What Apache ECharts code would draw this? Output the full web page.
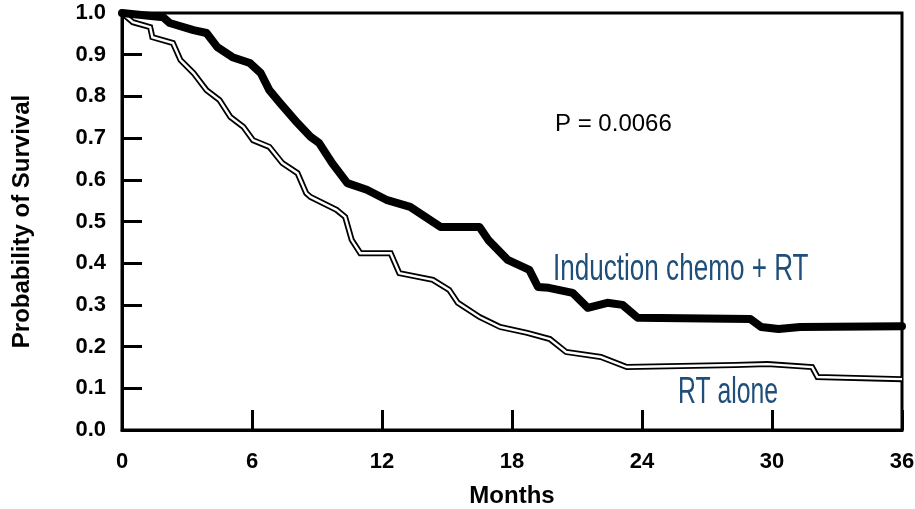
<!DOCTYPE html>
<html>
<head>
<meta charset="utf-8">
<script src="https://cdn.jsdelivr.net/npm/echarts@6/dist/echarts.min.js"></script>
<style>
  html, body { margin: 0; padding: 0; background: #fff; }
  #chart { width: 915px; height: 509px; }
</style>
</head>
<body>
<div id="chart"></div>
<script>
// Kaplan-Meier survival, months since start of treatment
const chemoMonths = [0, 1.9, 2.2, 3.3, 3.9, 4.4, 5.1, 5.9, 6.4, 6.8, 7.3, 8.1, 8.7, 9.1, 9.7, 10.4, 11.3, 12.2, 13.3, 14.7, 16.5, 16.9, 17.8, 18.8, 19.2, 19.7, 20.8, 21.5, 22.4, 23.1, 23.8, 29.0, 29.5, 30.3, 31.3, 36];
const chemoSurv   = [1.0, 0.99, 0.976, 0.959, 0.952, 0.918, 0.894, 0.88, 0.856, 0.815, 0.784, 0.736, 0.703, 0.688, 0.64, 0.592, 0.576, 0.552, 0.535, 0.487, 0.487, 0.456, 0.408, 0.384, 0.343, 0.341, 0.329, 0.293, 0.305, 0.30, 0.269, 0.266, 0.247, 0.242, 0.247, 0.249];

const rtMonths = [0, 0.5, 1.3, 1.4, 2.35, 2.7, 3.3, 3.9, 4.5, 5.0, 5.6, 6.05, 6.8, 7.4, 8.1, 8.5, 8.7, 9.9, 10.3, 10.6, 11.0, 12.4, 12.8, 14.35, 15.1, 15.5, 16.5, 17.45, 18.7, 19.75, 20.5, 22.1, 23.3, 28.3, 29.8, 31.85, 32.1, 36];
const rtSurv   = [1.0, 0.978, 0.966, 0.942, 0.928, 0.887, 0.856, 0.815, 0.791, 0.751, 0.727, 0.695, 0.679, 0.64, 0.616, 0.568, 0.559, 0.528, 0.511, 0.456, 0.424, 0.424, 0.376, 0.36, 0.336, 0.305, 0.271, 0.247, 0.233, 0.218, 0.187, 0.175, 0.151, 0.156, 0.158, 0.151, 0.127, 0.122];

const monthTicks = [0, 6, 12, 18, 24, 30, 36];
const survTicks = [0, 0.1, 0.2, 0.3, 0.4, 0.5, 0.6, 0.7, 0.8, 0.9, 1.0];

const pair = (xs, ys) => xs.map((x, i) => [x, ys[i]]);

const chart = echarts.init(document.getElementById('chart'));
const sans = 'Liberation Sans, Arial, sans-serif';
const tickFont = { color: '#000', fontFamily: sans, fontWeight: 'bold', fontSize: 22 };
const nameFont = { color: '#000', fontFamily: sans, fontWeight: 'bold', fontSize: 24 };

chart.setOption({
  animation: false,
  backgroundColor: '#fff',
  grid: {
    left: 122, right: 13, top: 13, bottom: 79,
    containLabel: false, outerBoundsMode: 'none',
    show: true, borderColor: '#000', borderWidth: 3, backgroundColor: 'transparent'
  },
  xAxis: {
    type: 'value', min: monthTicks[0], max: monthTicks[monthTicks.length - 1], interval: 6,
    name: 'Months', nameLocation: 'middle', nameGap: 54, nameTextStyle: nameFont,
    axisLine: { lineStyle: { color: '#000', width: 3 } },
    axisTick: { inside: true, length: 20, lineStyle: { color: '#000', width: 3 } },
    axisLabel: Object.assign({ margin: 21, formatter: v => monthTicks.includes(v) ? String(v) : '' }, tickFont),
    splitLine: { show: false }
  },
  yAxis: {
    type: 'value', min: 0, max: 1, interval: 0.1,
    name: 'Probability of Survival', nameLocation: 'middle', nameGap: 88, nameRotate: 90, nameTextStyle: nameFont,
    axisLine: { lineStyle: { color: '#000', width: 3 } },
    axisTick: { inside: true, length: 20, lineStyle: { color: '#000', width: 3 } },
    axisLabel: Object.assign({ margin: 16, formatter: v => survTicks.map(t => t.toFixed(1)).includes(v.toFixed(1)) ? v.toFixed(1) : '' }, tickFont),
    splitLine: { show: false }
  },
  series: [
    {
      name: 'RT alone (outline)', type: 'line', data: pair(rtMonths, rtSurv),
      symbol: 'none', silent: true, clip: false,
      lineStyle: { color: '#000', width: 6, join: 'miter' }
    },
    {
      name: 'RT alone', type: 'line', data: pair(rtMonths, rtSurv),
      symbol: 'none', silent: true, clip: false,
      lineStyle: { color: '#fff', width: 2.4, join: 'miter' }
    },
    {
      name: 'Induction chemo + RT', type: 'line', data: pair(chemoMonths, chemoSurv),
      symbol: 'none', silent: true, clip: false,
      lineStyle: { color: '#000', width: 8, join: 'round', cap: 'round' }
    }
  ],
  graphic: [
    { type: 'text', x: 555, y: 124, style: { text: 'P = 0.0066', fill: '#000', fontFamily: sans, fontSize: 24, textVerticalAlign: 'middle' } },
    { type: 'text', x: 553, y: 270, scaleX: 0.705, style: { text: 'Induction chemo + RT', fill: '#1f4e79', fontFamily: sans, fontSize: 37, textVerticalAlign: 'middle' } },
    { type: 'text', x: 678, y: 393, scaleX: 0.67, style: { text: 'RT alone', fill: '#1f4e79', fontFamily: sans, fontSize: 37, textVerticalAlign: 'middle' } }
  ]
});
</script>
</body>
</html>
